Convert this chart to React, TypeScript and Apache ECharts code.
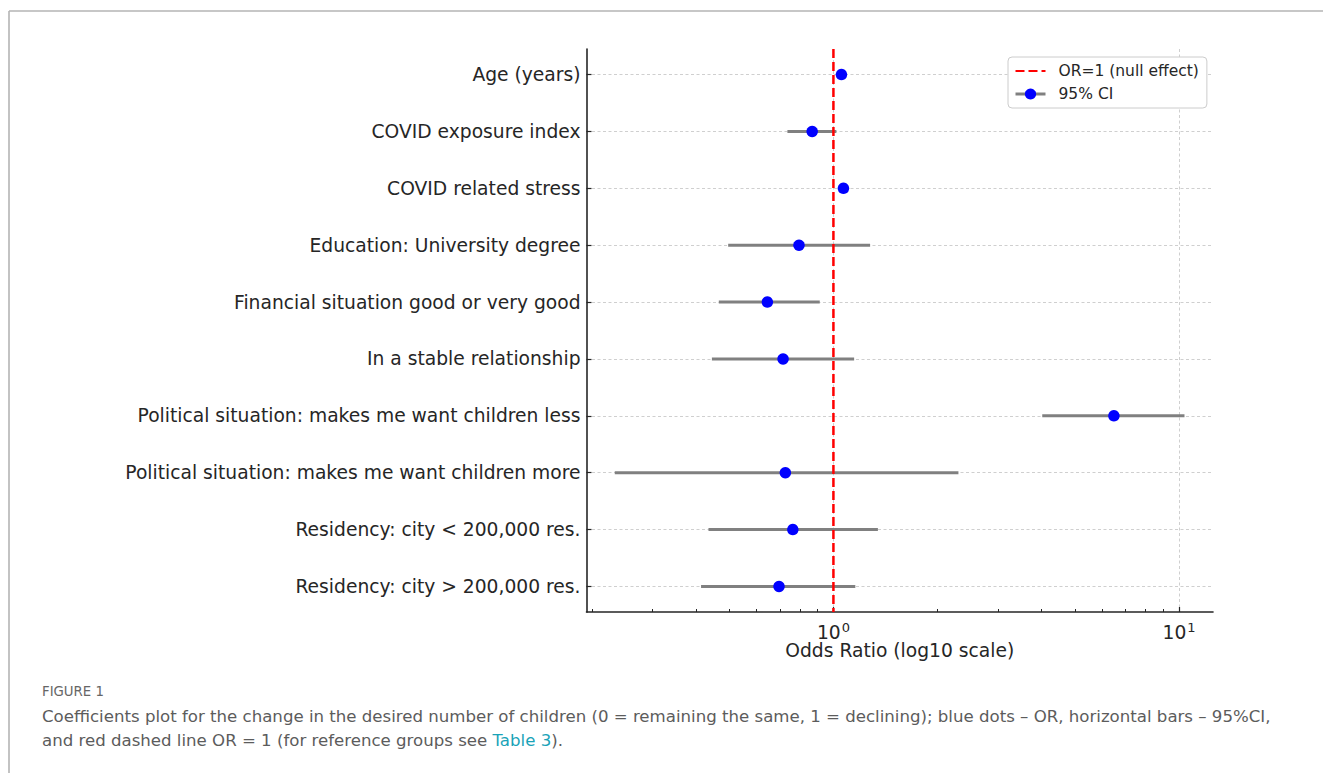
import React, { useEffect, useRef } from "react";
import * as echarts from "echarts";

const categories = [
  "Age (years)",
  "COVID exposure index",
  "COVID related stress",
  "Education: University degree",
  "Financial situation good or very good",
  "In a stable relationship",
  "Political situation: makes me want children less",
  "Political situation: makes me want children more",
  "Residency: city < 200,000 res.",
  "Residency: city > 200,000 res.",
];
const oddsRatio = [1.055, 0.868, 1.069, 0.795, 0.644, 0.715, 6.48, 0.726, 0.763, 0.696];
const ciLow = [1.035, 0.736, 1.05, 0.496, 0.466, 0.445, 4.02, 0.233, 0.435, 0.414];
const ciHigh = [1.075, 1.02, 1.09, 1.277, 0.913, 1.148, 10.37, 2.3, 1.345, 1.157];
const majorTicks = [1, 10];
const minorTicks = [0.2, 0.3, 0.4, 0.5, 0.6, 0.7, 0.8, 0.9, 2, 3, 4, 5, 6, 7, 8, 9];
const nullEffect = 1;

const FONT = "DejaVu Sans";
const CAP_FONT = "DejaVu Sans";

export default function App() {
  const ref = useRef<HTMLDivElement>(null);
  useEffect(() => {
    if (!ref.current) return;
    const chart = echarts.init(ref.current, undefined, { renderer: "svg" });
    const yIdx = categories.map((_, i) => i);
    const xMin = 0.193;
    const xMax = 12.54;
    const option: any = {
      animation: false,
      backgroundColor: "#ffffff",
      grid: { left: 586.5, top: 49, width: 626.5, height: 563, containLabel: false },
      legend: {
        orient: "vertical",
        left: 1008,
        top: 57,
        padding: [5, 8, 5, 6],
        itemWidth: 30,
        itemHeight: 14,
        itemGap: 5,
        backgroundColor: "#ffffff",
        borderColor: "#cccccc",
        borderWidth: 1,
        borderRadius: 4,
        textStyle: { fontFamily: FONT, fontSize: 15.5, color: "#262626", padding: [0, 0, 0, 8], lineHeight: 18 },
        data: [
          { name: "OR=1 (null effect)", itemStyle: { opacity: 0 } },
          {
            name: "95% CI",
            lineStyle: { color: "#808080", width: 3, opacity: 1, type: "solid" },
          },
        ],
      },
      xAxis: [
        {
          type: "log",
          logBase: 10,
          min: xMin,
          max: xMax,
          position: "bottom",
          name: "Odds Ratio (log10 scale)",
          nameLocation: "middle",
          nameGap: 29,
          nameMoveOverlap: false,
          nameTextStyle: { fontFamily: FONT, fontSize: 18.7, color: "#262626" },
          axisLine: { show: true, onZero: false, lineStyle: { color: "#262626", width: 1.6 } },
          axisTick: { show: true, inside: true, length: 5, customValues: majorTicks, lineStyle: { color: "#262626", width: 1.2 } },
          axisLabel: {
            show: true,
            margin: 9,
            customValues: majorTicks,
            formatter: (v: number) => `{b|10}{s|${Math.round(Math.log10(v))}}`,
            rich: {
              b: { fontFamily: FONT, fontSize: 18.7, color: "#262626" },
              s: { fontFamily: FONT, fontSize: 13, color: "#262626", padding: [0, 0, 9, 1] },
            },
          },
          splitLine: { show: true, lineStyle: { color: "#cfcfcf", width: 1, type: [3, 2.5] } },
          minorTick: { show: false },
        },
        {
          type: "log",
          logBase: 10,
          min: xMin,
          max: xMax,
          position: "bottom",
          axisLine: { show: false, onZero: false },
          axisTick: { show: true, inside: true, length: 3, customValues: minorTicks, lineStyle: { color: "#262626", width: 1 } },
          axisLabel: { show: false },
          splitLine: { show: false },
        },
      ],
      yAxis: {
        type: "value",
        inverse: true,
        min: -0.45,
        max: 9.45,
        axisLine: { show: true, onZero: false, lineStyle: { color: "#262626", width: 1.6 } },
        axisTick: { show: true, inside: true, length: 5, customValues: yIdx, lineStyle: { color: "#262626", width: 1.2 } },
        axisLabel: {
          show: true,
          margin: 6,
          customValues: yIdx,
          formatter: (v: number) => categories[Math.round(v)] ?? "",
          fontFamily: FONT,
          fontSize: 18.7,
          color: "#262626",
        },
        splitLine: { show: true, lineStyle: { color: "#cfcfcf", width: 1, type: [3, 2.5] } },
      },
      series: [
        {
          name: "ci",
          type: "custom",
          xAxisIndex: 0,
          yAxisIndex: 0,
          z: 2,
          data: yIdx.map((i) => [ciLow[i], ciHigh[i], i]),
          encode: { x: [0, 1], y: 2 },
          renderItem: (params: any, api: any) => {
            const y = api.value(2);
            const p1 = api.coord([api.value(0), y]);
            const p2 = api.coord([api.value(1), y]);
            return {
              type: "line",
              shape: { x1: p1[0], y1: p1[1], x2: p2[0], y2: p2[1] },
              style: { stroke: "#808080", lineWidth: 3 },
            };
          },
        },
        {
          name: "OR=1 (null effect)",
          type: "line",
          z: 3,
          symbol: "none",
          data: [
            [nullEffect, -0.45],
            [nullEffect, 9.45],
          ],
          lineStyle: { color: "#ff0000", width: 2.5, type: [9, 4] },
          itemStyle: { color: "#ff0000" },
        },
        {
          name: "95% CI",
          type: "line",
          z: 4,
          symbol: "circle",
          symbolSize: 11.5,
          showSymbol: true,
          data: yIdx.map((i) => [oddsRatio[i], i]),
          itemStyle: { color: "#0000ff" },
          lineStyle: { opacity: 0, width: 0 },
        },
      ],
      graphic: [
        { type: "line", shape: { x1: 9, y1: 11, x2: 1323, y2: 11 }, style: { stroke: "#b4b4b4", lineWidth: 1.6 } },
        { type: "line", shape: { x1: 9, y1: 11, x2: 9, y2: 773 }, style: { stroke: "#b4b4b4", lineWidth: 1.6 } },
        {
          type: "text",
          x: 42,
          y: 691,
          style: { text: "FIGURE 1", fontFamily: CAP_FONT, fontSize: 13.3, fill: "#666666", verticalAlign: "middle" },
        },
        {
          type: "text",
          x: 42,
          y: 716,
          style: {
            text: "Coefficients plot for the change in the desired number of children (0 = remaining the same, 1 = declining); blue dots \u2013 OR, horizontal bars \u2013 95%CI,",
            fontFamily: CAP_FONT,
            fontSize: 16.6,
            fill: "#5c5c5c",
            verticalAlign: "middle",
          },
        },
        {
          type: "text",
          x: 42,
          y: 740,
          style: {
            text: "{a|and red dashed line OR = 1 (for reference groups see }{b|Table 3}{a|).}",
            verticalAlign: "middle",
            rich: {
              a: { fontFamily: CAP_FONT, fontSize: 16.6, fill: "#5c5c5c", color: "#5c5c5c" },
              b: { fontFamily: CAP_FONT, fontSize: 16.6, fill: "#1aa3b8", color: "#1aa3b8" },
            },
          },
        },
      ],
    };
    chart.setOption(option);
    return () => chart.dispose();
  }, []);
  return (
    <div
      ref={ref}
      style={{ position: "absolute", left: 0, top: 0, width: 1323, height: 773, background: "#fff" }}
    />
  );
}
